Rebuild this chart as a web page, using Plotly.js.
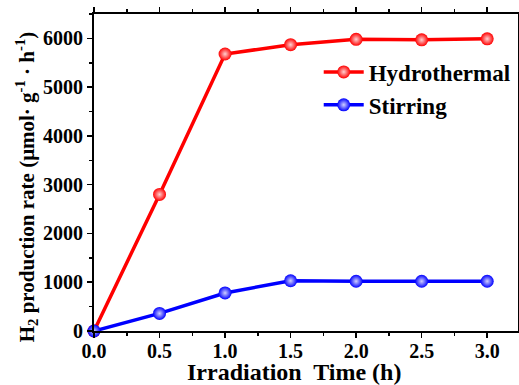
<!DOCTYPE html>
<html><head><meta charset="utf-8">
<script src="https://cdn.plot.ly/plotly-3.0.1.min.js"></script>
<style>body{margin:0;background:#fff}#c{width:519px;height:385px}</style>
</head><body><div id="c"></div>
<script>
const time = [0, 0.5, 1.0, 1.5, 2.0, 2.5, 3.0];
const hydrothermal = [0, 2800, 5680, 5870, 5980, 5970, 5990];
const stirring = [0, 360, 780, 1030, 1020, 1020, 1020];
const xTicks = [0, 0.5, 1.0, 1.5, 2.0, 2.5, 3.0];
const xTickLabels = ['0.0','0.5','1.0','1.5','2.0','2.5','3.0'];
const yTicks = [0,1000,2000,3000,4000,5000,6000];
const xTitle = 'Irradiation  Time (h)';
const yTitle = 'H<sub>2</sub> production rate (μmol· g<sup>-1</sup> · h<sup>-1</sup>)';

const FAM = '"Liberation Serif", "Times New Roman", Times, "DejaVu Serif", serif';
const font = {family: FAM, color: '#000'};
function tr(name, y, color, hi){
  return {x: time, y: y, name: name, type: 'scatter', mode: 'lines+markers',
    line: {color: color, width: 3.5},
    marker: {size: 13, color: color, gradient: {type: 'radial', color: hi}},
    cliponaxis: false};
}
const t1 = tr('Hydrothermal', hydrothermal, '#ff0000', '#ffd0d0');
const t2 = tr('Stirring', stirring, '#0000ff', '#d0d0ff');

const layout = {
  width: 519, height: 385,
  margin: {l: 94, r: 1, t: 14, b: 54},
  paper_bgcolor: '#fff', plot_bgcolor: '#fff',
  font: {family: FAM, color: '#000'},
  showlegend: true,
  legend: {x: 0.53, y: 0.885, xanchor: 'left', yanchor: 'top', bgcolor: 'rgba(0,0,0,0)',
    font: Object.assign({}, font, {size: 23, weight: 'bold'}), tracegroupgap: 0, itemwidth: 40},
  xaxis: {range: [0, 3.235], tickvals: xTicks, ticktext: xTickLabels, automargin: false,
    ticks: 'outside', ticklen: 5, tickwidth: 1.5, tickcolor: '#000',
    minor: {dtick: 0.25, ticks: 'outside', ticklen: 3, tickwidth: 1.5, tickcolor: '#000'},
    showline: true, linecolor: '#000', linewidth: 2, mirror: 'allticks',
    showgrid: false, zeroline: false, ticklabelstandoff: -4,
    tickfont: Object.assign({}, font, {size: 20, weight: 'bold'})},
  yaxis: {range: [0, 6500], tickvals: yTicks, automargin: false,
    ticks: 'outside', ticklen: 5, tickwidth: 1.5, tickcolor: '#000',
    minor: {dtick: 500, ticks: 'outside', ticklen: 3, tickwidth: 1.5, tickcolor: '#000'},
    showline: true, linecolor: '#000', linewidth: 2, mirror: 'allticks',
    showgrid: false, zeroline: false,
    tickfont: Object.assign({}, font, {size: 20, weight: 'bold'})},
  annotations: [
    {text: xTitle, xref: 'paper', yref: 'paper', x: 0.4717, y: -0.128, xanchor: 'center', yanchor: 'middle',
     showarrow: false, font: Object.assign({}, font, {size: 24, weight: 'bold'})},
    {text: yTitle, xref: 'paper', yref: 'paper', x: -0.16, y: 0.454, xanchor: 'center', yanchor: 'middle',
     textangle: -90, showarrow: false, font: Object.assign({}, font, {size: 21, weight: 'bold'})}
  ]
};
Plotly.newPlot('c', [t1, t2], layout, {staticPlot: true});
</script></body></html>
